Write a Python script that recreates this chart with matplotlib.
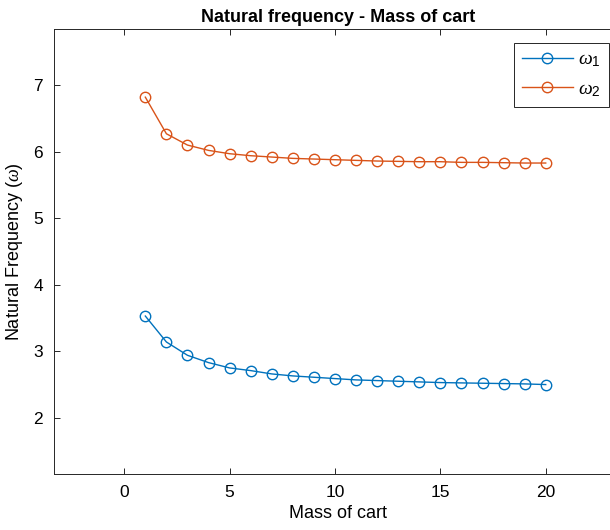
import numpy as np
import matplotlib.pyplot as plt

plt.rcParams['font.family'] = ['Liberation Sans', 'DejaVu Sans']
plt.rcParams['mathtext.fontset'] = 'custom'
plt.rcParams['mathtext.it'] = 'Liberation Serif:italic'
plt.rcParams['mathtext.rm'] = 'Liberation Sans'

# cart mass values and the two natural frequencies
mass = list(range(1, 21))
omega1 = [3.53, 3.14, 2.94, 2.83, 2.75, 2.71, 2.66, 2.63, 2.61, 2.59,
          2.57, 2.56, 2.55, 2.54, 2.53, 2.525, 2.52, 2.515, 2.51, 2.50]
omega2 = [6.82, 6.27, 6.10, 6.02, 5.97, 5.94, 5.92, 5.90, 5.89, 5.88,
          5.87, 5.86, 5.855, 5.85, 5.85, 5.84, 5.84, 5.835, 5.83, 5.83]
labels = [r'$\omega_1$', r'$\omega_2$']
xticks = [0, 5, 10, 15, 20]
yticks = [2, 3, 4, 5, 6, 7]

blue = '#0072BD'
orange = '#D95319'
axcol = '#262626'

fig = plt.figure(figsize=(6.1, 5.3), dpi=100)
ax = fig.add_axes([0.089, 0.1062, 0.93, 0.8385])

ax.plot(mass, omega1, '-o', color=blue, lw=1.0, ms=7.5, mfc='none', mew=1.0, label=labels[0])
ax.plot(mass, omega2, '-o', color=orange, lw=1.0, ms=7.5, mfc='none', mew=1.0, label=labels[1])

ax.set_xlim(-3.32, 23.6)
ax.set_ylim(1.16, 7.84)
ax.set_xticks(xticks)
ax.set_yticks(yticks)
ax.tick_params(direction='in', length=4, width=0.7, color=axcol, labelsize=12.5,
               top=True, right=False, labelcolor='black', pad=8)
ax.spines['right'].set_visible(False)
for s in ax.spines.values():
    s.set_color(axcol)
    s.set_linewidth(0.7)

ax.set_xlabel('Mass of cart', fontsize=13, labelpad=4)
ax.set_ylabel(r'Natural Frequency ($\omega$)', fontsize=13, labelpad=6)
ax.set_title('Natural frequency - Mass of cart', fontsize=13, fontweight='bold', pad=5)

leg = ax.legend(loc='upper right', bbox_to_anchor=(0.998, 0.919),
                bbox_transform=fig.transFigure, fontsize=14, fancybox=False,
                edgecolor=axcol, framealpha=1, handlelength=2.6,
                handletextpad=0.3, borderpad=0.4, labelspacing=0.6,
                borderaxespad=0)
leg.get_frame().set_linewidth(0.7)

fig.savefig('out.png', dpi=100)
